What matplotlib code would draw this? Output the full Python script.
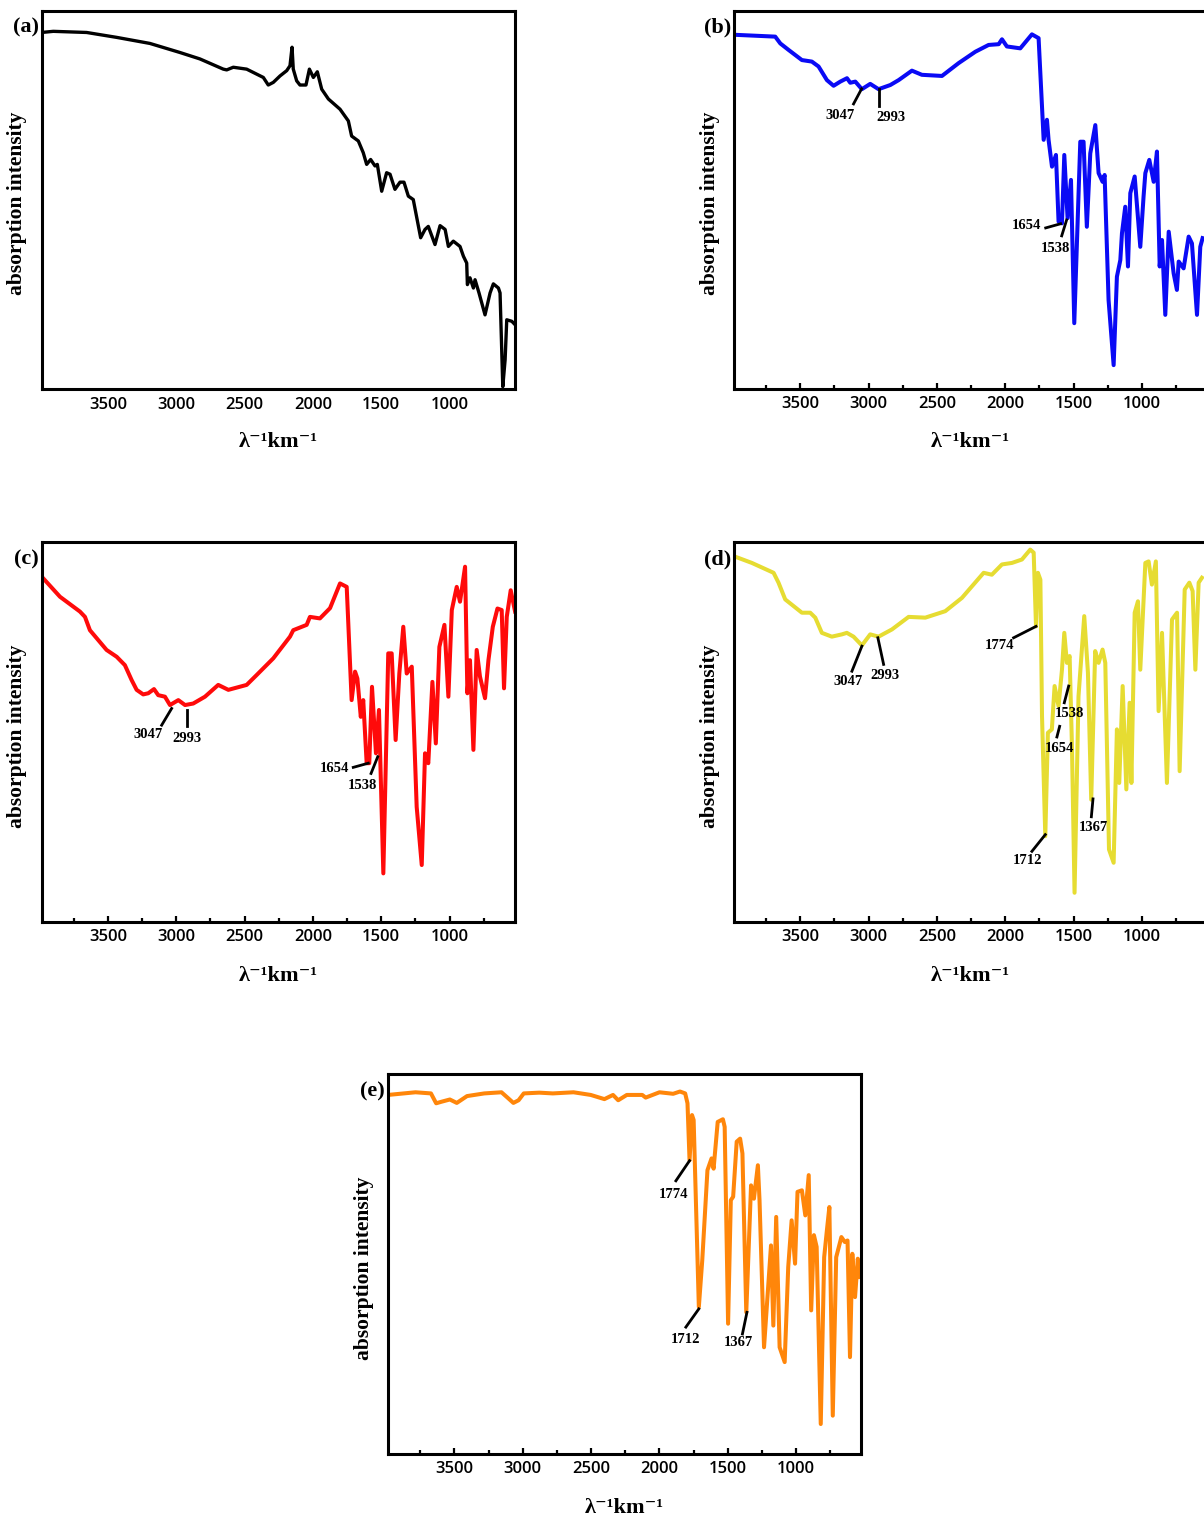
import matplotlib
matplotlib.use("Agg")
import matplotlib.pyplot as plt
from matplotlib.ticker import MultipleLocator

# wavenumber (cm-1 axis) and relative absorption intensity
wn_a = [3985, 3900, 3656, 3436, 3193, 2973, 2827, 2656, 2631, 2583, 2485, 2363, 2327, 2290,
        2241, 2192, 2168, 2153, 2144, 2119, 2095, 2051, 2026, 1997, 1968, 1936, 1887, 1802,
        1741, 1717, 1668, 1632, 1607, 1578, 1546, 1529, 1497, 1461, 1436, 1400, 1363, 1334,
        1302, 1266, 1212, 1180, 1156, 1107, 1070, 1033, 1009, 973, 924, 899, 875, 870, 851,
        826, 814, 785, 741, 704, 680, 643, 631, 611, 594, 582, 545, 521]
abs_a = [94.3, 94.6, 94.3, 93.0, 91.4, 89.0, 87.3, 84.6, 84.4, 85.1, 84.6, 82.4, 80.4, 81.1,
         82.8, 84.2, 85.5, 90.4, 84.6, 81.5, 80.4, 80.4, 84.6, 82.4, 83.9, 79.3, 76.7, 74.0,
         70.9, 66.9, 65.6, 62.5, 59.4, 60.7, 59.0, 59.4, 52.3, 57.2, 56.8, 52.8, 54.7, 54.7,
         51.0, 50.1, 40.0, 42.2, 43.0, 38.2, 43.2, 42.2, 37.7, 39.1, 37.7, 35.1, 33.3, 27.6, 29.4,
         26.7, 28.9, 25.4, 19.6, 25.4, 27.8, 26.7, 25.4, 0.6, 7.7, 18.3, 17.9, 17.0]

wn_b = [3988, 3683, 3646, 3586, 3488, 3415, 3366, 3305, 3256, 3207, 3158, 3134, 3097, 3049,
        2988, 2927, 2841, 2780, 2683, 2610, 2463, 2341, 2219, 2122, 2048, 2024, 1988, 1890,
        1805, 1756, 1719, 1695, 1683, 1658, 1629, 1610, 1585, 1568, 1544, 1519, 1495, 1451,
        1427, 1403, 1378, 1341, 1317, 1288, 1273, 1244, 1207, 1183, 1158, 1146, 1122, 1102,
        1085, 1053, 1012, 988, 975, 946, 914, 890, 870, 853, 829, 804, 768, 744, 731, 695,
        658, 634, 597, 573, 556]
abs_b = [93.7, 93.2, 91.4, 89.7, 87.0, 86.6, 85.3, 81.7, 80.2, 81.3, 82.2, 81.0, 81.3, 79.3,
         80.7, 79.3, 80.4, 81.7, 84.2, 83.1, 82.8, 86.2, 89.2, 91.0, 91.2, 92.5, 90.6, 90.1,
         93.8, 92.8, 65.9, 71.2, 65.9, 58.8, 61.9, 44.3, 43.8, 61.9, 45.2, 55.3, 17.4, 65.4,
         65.4, 42.9, 62.3, 69.8, 57.1, 54.8, 56.6, 23.5, 6.3, 29.7, 34.1, 41.2, 48.2, 32.4,
         51.8, 56.2, 37.6, 50.9, 57.1, 60.6, 54.8, 62.8, 32.4, 39.4, 19.6, 41.6, 30.6, 26.2,
         33.7, 31.9, 40.3, 38.5, 19.6, 37.6, 39.9]

wn_c = [3985, 3851, 3705, 3668, 3632, 3510, 3436, 3376, 3327, 3290, 3242, 3205, 3163, 3132,
        3083, 3046, 2985, 2936, 2876, 2790, 2693, 2619, 2485, 2412, 2290, 2168, 2144, 2046,
        2022, 1949, 1875, 1802, 1753, 1717, 1692, 1675, 1650, 1632, 1607, 1588, 1568, 1539,
        1517, 1485, 1449, 1424, 1395, 1368, 1339, 1314, 1277, 1241, 1204, 1180, 1156, 1126,
        1101, 1075, 1038, 1009, 984, 948, 924, 887, 870, 851, 826, 802, 778, 741, 716, 684,
        650, 619, 602, 582, 553, 521]
abs_c = [90.9, 85.6, 81.7, 80.3, 76.8, 71.6, 69.8, 67.6, 63.7, 61.1, 59.9, 60.2, 61.3, 59.7,
         59.3, 57.1, 58.4, 57.1, 57.5, 59.3, 62.4, 61.1, 62.4, 65.0, 69.4, 75.1, 76.8, 78.2,
         80.3, 79.9, 82.6, 89.1, 88.2, 58.4, 65.9, 64.1, 54.0, 58.4, 41.8, 41.8, 61.9, 44.4,
         55.8, 12.8, 70.7, 70.7, 47.9, 65.4, 77.7, 65.4, 67.2, 30.3, 15.0, 44.4, 41.8, 63.2,
         47.0, 72.4, 78.2, 59.3, 82.1, 88.2, 84.3, 93.5, 60.2, 68.9, 45.3, 71.6, 64.6, 58.9,
         68.9, 77.7, 82.5, 82.1, 61.5, 80.3, 87.3, 81.7]

wn_d = [3988, 3854, 3695, 3659, 3610, 3488, 3427, 3390, 3342, 3269, 3195, 3159, 3110, 3049,
        2988, 2927, 2829, 2707, 2585, 2439, 2317, 2158, 2098, 2024, 1951, 1878, 1817, 1792,
        1775, 1761, 1743, 1731, 1707, 1688, 1659, 1639, 1610, 1585, 1568, 1549, 1529, 1512,
        1493, 1464, 1422, 1395, 1371, 1342, 1317, 1288, 1268, 1241, 1207, 1183, 1166, 1141,
        1114, 1090, 1077, 1053, 1029, 1012, 975, 951, 927, 898, 878, 853, 817, 780, 743, 724,
        687, 653, 629, 609, 585, 561]
abs_d = [96.3, 94.5, 91.9, 89.3, 84.9, 81.4, 81.4, 80.1, 76.1, 75.1, 75.7, 76.1, 75.1, 72.8,
         75.7, 75.1, 77.0, 80.3, 80.1, 81.8, 85.3, 91.9, 91.4, 94.1, 94.5, 95.4, 98.0, 97.2,
         77.8, 91.9, 90.1, 54.2, 22.6, 49.8, 50.7, 62.1, 56.8, 66.4, 76.1, 68.2, 70.0, 46.3,
         7.7, 59.4, 80.5, 65.6, 32.2, 71.3, 68.2, 71.7, 68.2, 19.1, 15.6, 50.7, 36.6, 62.1,
         34.9, 57.7, 36.6, 81.4, 84.4, 66.4, 94.5, 94.9, 88.8, 94.9, 55.5, 76.1, 36.6, 79.6,
         81.4, 39.7, 87.5, 89.3, 87.1, 66.4, 89.3, 90.6]

wn_e = [3985, 3784, 3671, 3633, 3595, 3533, 3482, 3407, 3281, 3155, 3105, 3068, 3030, 2992,
        2879, 2779, 2628, 2502, 2402, 2339, 2301, 2238, 2125, 2100, 1999, 1899, 1849, 1811,
        1794, 1779, 1761, 1749, 1711, 1686, 1648, 1618, 1603, 1573, 1535, 1522, 1497, 1477,
        1460, 1434, 1409, 1392, 1364, 1329, 1308, 1279, 1267, 1234, 1183, 1166, 1145, 1120,
        1083, 1057, 1032, 1007, 989, 957, 932, 907, 889, 869, 849, 819, 794, 774, 756, 731,
        706, 668, 643, 623, 605, 588, 568, 548, 530]
abs_e = [94.5, 95.2, 94.9, 92.3, 92.7, 93.3, 92.4, 94.2, 94.9, 95.2, 93.6, 92.4, 93.1, 94.9,
         95.1, 94.9, 95.2, 94.5, 93.4, 94.5, 93.1, 94.5, 94.5, 93.8, 95.2, 94.8, 95.4, 94.9,
         92.3, 77.3, 89.2, 87.9, 38.7, 51.0, 74.7, 77.8, 75.1, 87.4, 88.1, 86.1, 34.3, 66.8,
         67.7, 82.2, 83.0, 79.1, 37.3, 70.7, 67.2, 76.0, 66.8, 28.1, 54.9, 33.8, 62.4, 28.1,
         24.2, 49.2, 61.5, 50.1, 69.0, 69.4, 62.8, 73.4, 37.8, 57.6, 54.5, 7.9, 51.8, 58.9,
         65.0, 10.1, 51.8, 57.1, 55.8, 56.2, 25.5, 52.7, 41.3, 51.4, 46.6]

# peak labels: text, leader start (on curve), leader end, text centre
ann_b = [("3047", (3051, 79.4), (3110, 75.4), (3205, 72.3)),
         ("2993", (2927, 79.4), (2927, 74.9), (2840, 71.8)),
         ("1654", (1595, 43.7), (1704, 42.6), (1843, 43.2)),
         ("1538", (1551, 44.7), (1587, 40.5), (1631, 37.2))]
ann_c = [("3047", (3034, 56.2), (3107, 51.8), (3205, 49.4)),
         ("2993", (2924, 55.8), (2924, 51.5), (2924, 48.3)),
         ("1654", (1595, 41.8), (1705, 40.7), (1843, 40.5)),
         ("1538", (1526, 43.5), (1575, 39.1), (1636, 36.0))]
ann_d = [("3047", (3049, 72.6), (3122, 66.0), (3152, 63.2)),
         ("2993", (2932, 74.8), (2890, 67.8), (2883, 65.0)),
         ("1774", (1775, 77.8), (1939, 74.8), (2043, 72.8)),
         ("1538", (1536, 62.1), (1568, 57.7), (1531, 55.0)),
         ("1654", (1602, 51.5), (1622, 48.7), (1602, 45.6)),
         ("1712", (1707, 23.0), (1805, 18.6), (1836, 16.1)),
         ("1367", (1358, 32.4), (1370, 27.7), (1353, 25.0))]
ann_e = [("1774", (1779, 77.2), (1879, 71.9), (1899, 68.3)),
         ("1712", (1711, 38.2), (1806, 33.4), (1811, 30.1)),
         ("1367", (1359, 37.3), (1392, 31.6), (1422, 29.4))]

serif = ["Liberation Serif", "DejaVu Serif"]

fig = plt.figure(figsize=(12.04, 15.17), dpi=100)

# [left, bottom, width, height] in figure fractions; right panels run past the edge
panels = [
    ("(a)", wn_a, abs_a, "black", 2.4, [0.0346, 0.7436, 0.3931, 0.2492], [], False),
    ("(b)", wn_b, abs_b, "#0a0af5", 2.9, [0.6096, 0.7436, 0.3931, 0.2492], ann_b, True),
    ("(c)", wn_c, abs_c, "#ff0a0a", 2.9, [0.0346, 0.3922, 0.3931, 0.2505], ann_c, True),
    ("(d)", wn_d, abs_d, "#e6dc32", 2.9, [0.6096, 0.3922, 0.3931, 0.2505], ann_d, True),
    ("(e)", wn_e, abs_e, "#ff860a", 2.9, [0.3223, 0.0415, 0.3931, 0.2505], ann_e, True),
]

for tag, x, y, col, lw, pos, anns, ticks in panels:
    ax = fig.add_axes(pos)
    ax.plot(x, y, color=col, lw=lw, solid_joinstyle="round", zorder=2)
    ax.set_xlim(3985, 522)
    ax.set_ylim(0, 100)
    ax.set_yticks([])
    ax.xaxis.set_major_locator(MultipleLocator(500))
    ax.xaxis.set_minor_locator(MultipleLocator(250))
    for s in ax.spines.values():
        s.set_linewidth(2.2)
    if ticks:
        ax.tick_params(axis="x", which="major", direction="in", length=4.5, width=1.6, pad=5)
        ax.tick_params(axis="x", which="minor", direction="in", length=3, width=1.6)
    else:
        ax.tick_params(axis="x", which="both", length=0, pad=6)
    for lab in ax.get_xticklabels():
        lab.set_fontfamily("Open Sans")
        lab.set_fontweight(600)
        lab.set_fontsize(12)
    ax.set_xlabel("λ⁻¹km⁻¹", family=serif, fontweight="bold", fontsize=16)
    ax.xaxis.set_label_coords(0.5, -0.115)
    ax.set_ylabel("absorption intensity", family=serif, fontweight="bold", fontsize=15.5)
    ax.yaxis.set_label_coords(-0.03, 0.49)
    ax.text(-0.006, 0.955, tag, transform=ax.transAxes, ha="right", va="center",
            family=serif, fontweight="bold", fontsize=16)
    for txt, p0, p1, pt in anns:
        ax.plot([p0[0], p1[0]], [p0[1], p1[1]], color="black", lw=2.0, zorder=3)
        ax.text(pt[0], pt[1], txt, ha="center", va="center", family=serif,
                fontweight="bold", fontsize=10.5)

fig.savefig("out.png", dpi=100)
